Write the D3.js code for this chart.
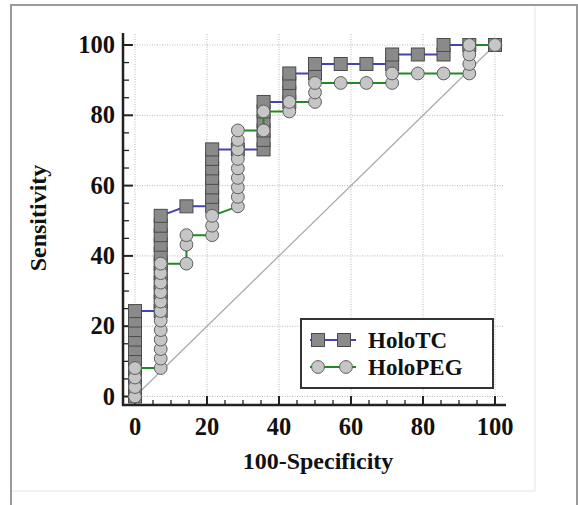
<!DOCTYPE html>
<html>
<head>
<meta charset="utf-8">
<script src="https://cdn.jsdelivr.net/npm/d3@7"></script>
<style>
  body { margin: 0; background: #fff; }
  text { font-family: "Liberation Serif", "Times New Roman", serif; font-weight: bold; fill: #111; }
</style>
</head>
<body>
<div id="plot"></div>
<script>
// ROC points, in percent (100-Specificity, Sensitivity)
const holoTCx = [0, 0, 0, 0, 0, 0, 0, 0, 0, 0,
  7.14, 7.14, 7.14, 7.14, 7.14, 7.14, 7.14, 7.14, 7.14, 7.14, 7.14,
  14.29,
  21.43, 21.43, 21.43, 21.43, 21.43, 21.43, 21.43,
  28.57,
  35.71, 35.71, 35.71, 35.71, 35.71, 35.71,
  42.86, 42.86, 42.86, 42.86,
  50, 50, 57.14, 64.29, 71.43, 71.43, 78.57, 85.71, 85.71, 92.86, 100];
const holoTCy = [0, 2.7, 5.4, 8.1, 10.8, 13.5, 16.2, 18.9, 21.6, 24.3,
  24.3, 27.0, 29.7, 32.4, 35.1, 37.8, 40.5, 43.2, 45.9, 48.6, 51.4,
  54.1,
  54.1, 56.8, 59.5, 62.2, 64.9, 67.6, 70.3,
  70.3,
  70.3, 73.0, 75.7, 78.4, 81.1, 83.8,
  83.8, 86.5, 89.2, 91.9,
  91.9, 94.6, 94.6, 94.6, 94.6, 97.3, 97.3, 97.3, 100, 100, 100];

const holoPEGx = [0, 0, 0, 0,
  7.14, 7.14, 7.14, 7.14, 7.14, 7.14, 7.14, 7.14, 7.14, 7.14, 7.14, 7.14,
  14.29, 14.29, 14.29,
  21.43, 21.43, 21.43,
  28.57, 28.57, 28.57, 28.57, 28.57, 28.57, 28.57, 28.57, 28.57,
  35.71, 35.71,
  42.86, 42.86,
  50, 50, 50, 57.14, 64.29, 71.43, 71.43, 78.57, 85.71,
  92.86, 92.86, 92.86, 92.86, 100];
const holoPEGy = [0, 2.7, 5.4, 8.1,
  8.1, 10.8, 13.5, 16.2, 18.9, 21.6, 24.3, 27.0, 29.7, 32.4, 35.1, 37.8,
  37.8, 43.2, 45.9,
  45.9, 48.6, 51.4,
  54.1, 56.8, 59.5, 62.2, 64.9, 67.6, 70.3, 73.0, 75.7,
  75.7, 81.1,
  81.1, 83.8,
  83.8, 86.5, 89.2, 89.2, 89.2, 89.2, 91.9, 91.9, 91.9,
  91.9, 94.6, 97.3, 100, 100];

const majorTicks = [0, 20, 40, 60, 80, 100];
const minorTicks = [5, 10, 15, 25, 30, 35, 45, 50, 55, 65, 70, 75, 85, 90, 95];
const seriesNames = ["HoloTC", "HoloPEG"];

window.addEventListener("load", main);

function main() {
  const width = 578, height = 505;
  const svg = d3.select("#plot").append("svg")
    .attr("width", width)
    .attr("height", height);

  const x = d3.scaleLinear().domain([0, 100]).range([135, 495]);
  const y = d3.scaleLinear().domain([0, 100]).range([396.5, 45]);

  // page frame
  svg.append("line").attr("x1", 535).attr("x2", 535).attr("y1", 5).attr("y2", 491)
    .attr("stroke", "#e4e4e4");
  svg.append("line").attr("x1", 11).attr("x2", 535).attr("y1", 491).attr("y2", 491)
    .attr("stroke", "#e4e4e4");
  svg.append("rect").attr("x", 11).attr("y", 5).attr("width", 566).attr("height", 520)
    .attr("fill", "none").attr("stroke", "#9a9a9a").attr("stroke-width", 2);

  // dotted grid
  const grid = svg.append("g").attr("stroke", "#b8b8b8").attr("stroke-dasharray", "1,1.5");
  grid.selectAll(".gv").data(majorTicks).join("line")
    .attr("x1", d => x(d)).attr("x2", d => x(d))
    .attr("y1", 34).attr("y2", 402);
  grid.selectAll(".gh").data(majorTicks).join("line")
    .attr("y1", d => y(d)).attr("y2", d => y(d))
    .attr("x1", 127).attr("x2", 503);

  // reference diagonal
  svg.append("line")
    .attr("x1", x(0)).attr("y1", y(0)).attr("x2", x(100)).attr("y2", y(100))
    .attr("stroke", "#a8a8a8").attr("stroke-width", 1.2);

  // axes
  const ax = 123, ay = 405;
  const axes = svg.append("g").attr("stroke", "#222");
  axes.append("line").attr("x1", ax).attr("x2", ax).attr("y1", 33).attr("y2", ay + 1)
    .attr("stroke-width", 2.5);
  axes.append("line").attr("x1", ax - 1).attr("x2", 506).attr("y1", ay).attr("y2", ay)
    .attr("stroke-width", 2.5);
  axes.selectAll(".ymaj").data(majorTicks).join("line")
    .attr("x1", ax).attr("x2", ax + 10).attr("y1", d => y(d)).attr("y2", d => y(d))
    .attr("stroke-width", 2);
  axes.selectAll(".ymin").data(minorTicks).join("line")
    .attr("x1", ax).attr("x2", ax + 6).attr("y1", d => y(d)).attr("y2", d => y(d))
    .attr("stroke-width", 1.3);
  axes.selectAll(".xmaj").data(majorTicks).join("line")
    .attr("y1", ay).attr("y2", ay - 9).attr("x1", d => x(d)).attr("x2", d => x(d))
    .attr("stroke-width", 2);
  axes.selectAll(".xmin").data(minorTicks).join("line")
    .attr("y1", ay).attr("y2", ay - 5).attr("x1", d => x(d)).attr("x2", d => x(d))
    .attr("stroke-width", 1.3);

  svg.selectAll(".ylab").data(majorTicks).join("text")
    .attr("x", 115).attr("y", d => y(d) + 8)
    .attr("text-anchor", "end").attr("font-size", 24.5)
    .text(d => d);
  svg.selectAll(".xlab").data(majorTicks).join("text")
    .attr("x", d => x(d)).attr("y", 435)
    .attr("text-anchor", "middle").attr("font-size", 24.5)
    .text(d => d);

  svg.append("text").attr("x", 318).attr("y", 469)
    .attr("text-anchor", "middle").attr("font-size", 24)
    .text("100-Specificity");
  svg.append("text")
    .attr("transform", "translate(46,218) rotate(-90)")
    .attr("text-anchor", "middle").attr("font-size", 24)
    .text("Sensitivity");

  // series
  const line = d3.line().x(d => x(d[0])).y(d => y(d[1]));
  const tc = holoTCx.map((v, i) => [v, holoTCy[i]]);
  const peg = holoPEGx.map((v, i) => [v, holoPEGy[i]]);
  const sq = 13, r = 6.4;

  svg.append("path").datum(tc).attr("d", line)
    .attr("fill", "none").attr("stroke", "#4343b5").attr("stroke-width", 2);
  svg.append("g").selectAll("rect").data(tc).join("rect")
    .attr("x", d => x(d[0]) - sq / 2).attr("y", d => y(d[1]) - sq / 2)
    .attr("width", sq).attr("height", sq)
    .attr("fill", "#8a8a8a").attr("stroke", "#4a4a4a").attr("stroke-width", 1);

  svg.append("path").datum(peg).attr("d", line)
    .attr("fill", "none").attr("stroke", "#1f8a1f").attr("stroke-width", 2);
  svg.append("g").selectAll("circle").data(peg).join("circle")
    .attr("cx", d => x(d[0])).attr("cy", d => y(d[1])).attr("r", r)
    .attr("fill", "#c6c6c6").attr("stroke", "#5e5e5e").attr("stroke-width", 1);

  // legend
  const lg = svg.append("g");
  lg.append("rect").attr("x", 301).attr("y", 319).attr("width", 192).attr("height", 69)
    .attr("fill", "#fff").attr("stroke", "#333").attr("stroke-width", 2);
  const ly = [340, 367];
  lg.append("line").attr("x1", 310).attr("x2", 356).attr("y1", ly[0]).attr("y2", ly[0])
    .attr("stroke", "#4343b5").attr("stroke-width", 2);
  lg.selectAll(".lsq").data([318, 344]).join("rect")
    .attr("x", d => d - sq / 2).attr("y", ly[0] - sq / 2).attr("width", sq).attr("height", sq)
    .attr("fill", "#8a8a8a").attr("stroke", "#4a4a4a");
  lg.append("line").attr("x1", 310).attr("x2", 356).attr("y1", ly[1]).attr("y2", ly[1])
    .attr("stroke", "#1f8a1f").attr("stroke-width", 2);
  lg.selectAll(".lci").data([318, 346]).join("circle")
    .attr("cx", d => d).attr("cy", ly[1]).attr("r", r)
    .attr("fill", "#c6c6c6").attr("stroke", "#5e5e5e");
  lg.selectAll(".ltx").data(seriesNames).join("text")
    .attr("x", 368).attr("y", (d, i) => ly[i] + 8)
    .attr("font-size", 23)
    .text(d => d);
}
</script>
</body>
</html>
